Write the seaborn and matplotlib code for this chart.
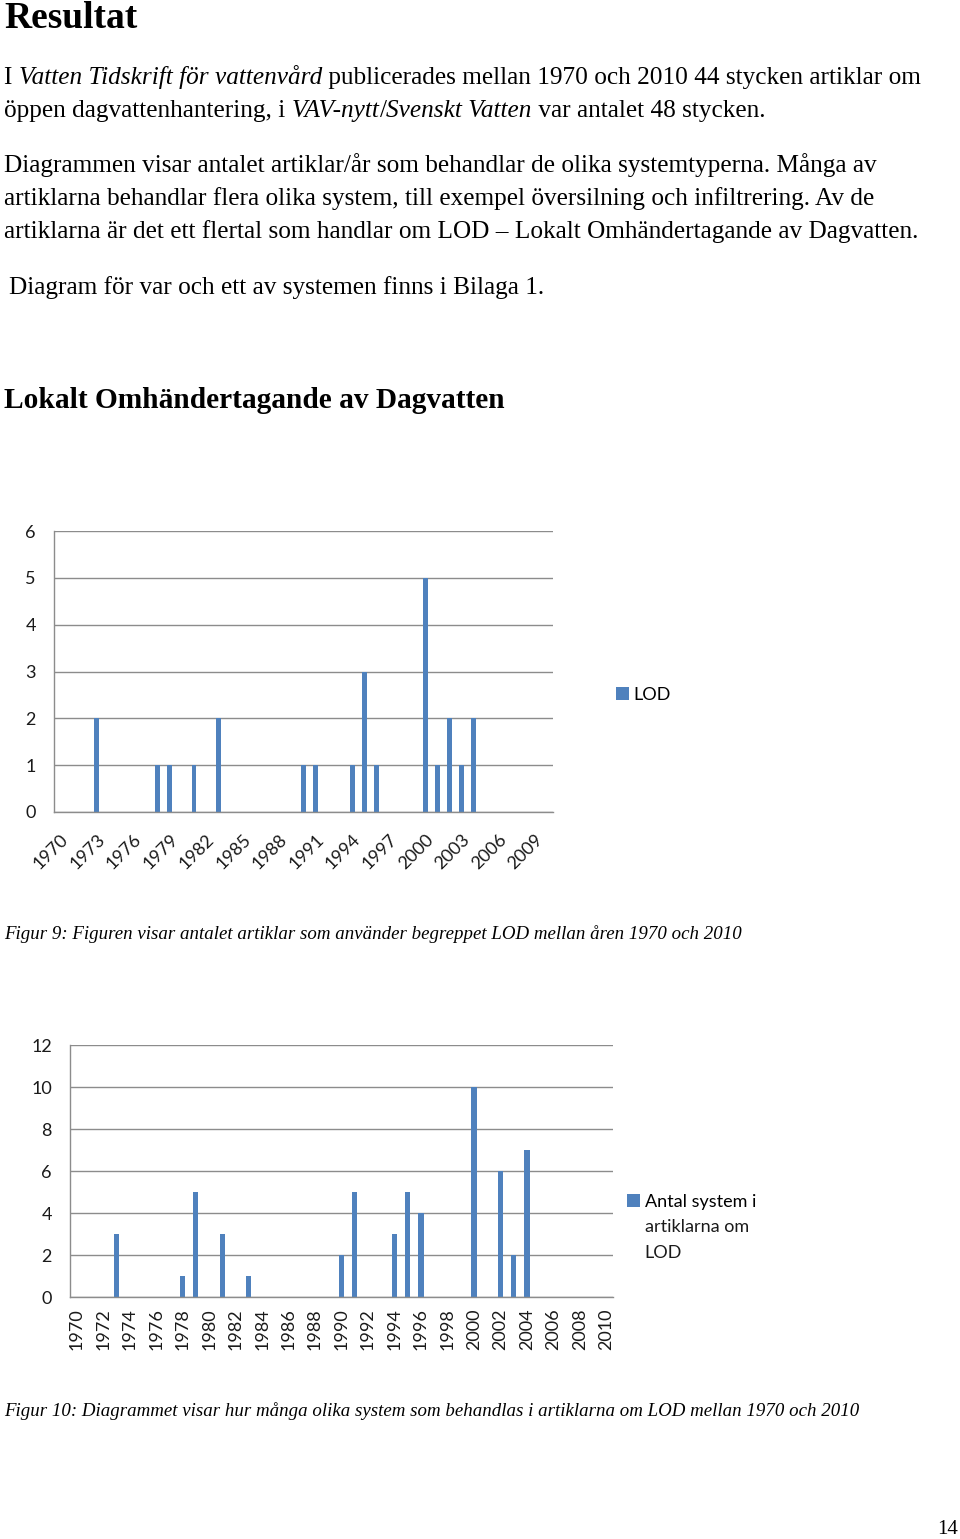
import matplotlib
matplotlib.use("Agg")
import matplotlib.pyplot as plt
import seaborn as sns

# ---------------- data ----------------
years = [str(y) for y in range(1970, 2011)]
lod_counts = [0, 0, 0, 2, 0, 0, 0, 0, 1, 1,
              0, 1, 0, 2, 0, 0, 0, 0, 0, 0,
              1, 1, 0, 0, 1, 3, 1, 0, 0, 0,
              5, 1, 2, 1, 2, 0, 0, 0, 0, 0,
              0]
system_counts = [0, 0, 0, 3, 0, 0, 0, 0, 1, 5,
                 0, 3, 0, 1, 0, 0, 0, 0, 0, 0,
                 2, 5, 0, 0, 3, 5, 4, 0, 0, 0,
                 10, 0, 6, 2, 7, 0, 0, 0, 0, 0,
                 0]
labels1_every = 3
labels2_every = 2
legend1 = "LOD"
legend2 = "Antal system i\nartiklarna om\nLOD"

# ---------------- style ----------------
sns.set_theme(style="white")
plt.rcParams["font.family"] = ["Lato", "DejaVu Sans"]
plt.rcParams["text.color"] = "black"
plt.rcParams["xtick.color"] = "#1a1a1a"
plt.rcParams["ytick.color"] = "#1a1a1a"
BLUE = "#4F81BD"
GRID = "#8C8C8C"
SERIF = ["Liberation Serif", "DejaVu Serif"]
CHART_FONT = ["Lato", "DejaVu Sans"]
TICK_SIZE = 13

W, H = 960, 1539
fig = plt.figure(figsize=(W / 100, H / 100), dpi=100)
fig.patch.set_facecolor("white")


def fx(px):
    return px / W


def fy(py):
    return 1 - py / H


renderer = fig.canvas.get_renderer()


def runs(x, y, parts, size):
    """Draw a line of mixed regular/italic text starting at pixel x, baseline y."""
    cur = x
    for txt, style in parts:
        t = fig.text(fx(cur), fy(y), txt, fontsize=size, family=SERIF,
                     style=style, va="baseline", ha="left", color="black")
        bb = t.get_window_extent(renderer=renderer)
        cur += bb.width


# ---------------- page text ----------------
fig.text(fx(4), fy(28), "Resultat", fontsize=27, family=SERIF,
         weight="bold", va="baseline", color="black")

BODY = 18.2
runs(4, 84, [("I ", "normal"), ("Vatten Tidskrift för vattenvård", "italic"),
             (" publicerades mellan 1970 och 2010 44 stycken artiklar om", "normal")], BODY)
runs(4, 117, [("öppen dagvattenhantering, i ", "normal"), ("VAV-nytt", "italic"),
              ("/", "normal"), ("Svenskt Vatten", "italic"),
              (" var antalet 48 stycken.", "normal")], BODY)
runs(4, 172, [("Diagrammen visar antalet artiklar/år som behandlar de olika systemtyperna. Många av", "normal")], BODY)
runs(4, 205, [("artiklarna behandlar flera olika system, till exempel översilning och infiltrering. Av de", "normal")], BODY)
runs(4, 238, [("artiklarna är det ett flertal som handlar om LOD – Lokalt Omhändertagande av Dagvatten.", "normal")], BODY)
runs(9, 294, [("Diagram för var och ett av systemen finns i Bilaga 1.", "normal")], BODY)

fig.text(fx(4), fy(408), "Lokalt Omhändertagande av Dagvatten", fontsize=21.2,
         family=SERIF, weight="bold", va="baseline", color="black")

fig.text(fx(4), fy(939), "Figur 9: Figuren visar antalet artiklar som använder begreppet LOD mellan åren 1970 och 2010",
         fontsize=13.6, family=SERIF, style="italic", va="baseline", color="black")
fig.text(fx(4), fy(1416), "Figur 10: Diagrammet visar hur många olika system som behandlas i artiklarna om LOD mellan 1970 och 2010",
         fontsize=13.6, family=SERIF, style="italic", va="baseline", color="black")
fig.text(fx(958), fy(1534), "14", fontsize=15, family=SERIF, ha="right",
         va="baseline", color="black")


# ---------------- charts ----------------
def style_axis(ax, ymax, label_every, rotation):
    ax.set_xlim(-0.5, len(years) - 0.5)
    ax.set_ylim(0, ymax)
    for s in ["top", "right"]:
        ax.spines[s].set_visible(False)
    for s in ["left", "bottom"]:
        ax.spines[s].set_color(GRID)
        ax.spines[s].set_linewidth(1.0)
    ax.yaxis.grid(True, color=GRID, linewidth=1.0)
    ax.xaxis.grid(False)
    ax.set_axisbelow(True)
    ax.set_xlabel("")
    ax.set_ylabel("")
    pos = list(range(0, len(years), label_every))
    ax.set_xticks(pos)
    if rotation == 45:
        ax.set_xticklabels([years[i] for i in pos], rotation=45, ha="right",
                           rotation_mode="anchor", family=CHART_FONT, fontsize=TICK_SIZE)
        xpad = 14
    else:
        ax.set_xticklabels([years[i] for i in pos], rotation=90, ha="center",
                           va="top", family=CHART_FONT, fontsize=TICK_SIZE)
        xpad = 8
    ax.set_xticks([i - 0.5 for i in range(len(years) + 1)], minor=True)
    ax.tick_params(axis="x", which="major", length=0, pad=xpad)
    ax.tick_params(axis="x", which="minor", length=5, color=GRID, width=1, direction="out")
    ax.tick_params(axis="y", which="major", length=5, color=GRID, width=1,
                   direction="out", pad=8, labelsize=TICK_SIZE)


def add_legend(ax, label, x_px, y_px):
    lines = label.split("\n")
    leg = ax.legend(loc="upper left", bbox_to_anchor=(fx(x_px), fy(y_px)),
                    bbox_transform=fig.transFigure, frameon=False,
                    handlelength=0.72, handleheight=0.72, handletextpad=0.25,
                    borderaxespad=0, borderpad=0,
                    prop={"family": CHART_FONT, "size": TICK_SIZE})
    leg.get_texts()[0].set_text(lines[0])
    fig.canvas.draw()
    tb = leg.get_texts()[0].get_window_extent(renderer=fig.canvas.get_renderer())
    for k, extra in enumerate(lines[1:], start=1):
        fig.text(tb.x0 / W, (tb.y0 - 25.3 * k) / H, extra, family=CHART_FONT,
                 fontsize=TICK_SIZE, ha="left", va="bottom", color="#1a1a1a")
    return leg


ax1 = fig.add_axes([fx(54), fy(812), fx(553 - 54), (812 - 531) / H])
sns.barplot(x=years, y=lod_counts, color=BLUE, width=0.4, linewidth=0,
            saturation=1, ax=ax1, label=legend1)
style_axis(ax1, 6, labels1_every, 45)
ax1.set_yticks(range(0, 7))
for lab in ax1.get_yticklabels():
    lab.set_family(CHART_FONT)
add_legend(ax1, legend1, 616, 687)

ax2 = fig.add_axes([fx(70), fy(1297), fx(613 - 70), (1297 - 1045) / H])
sns.barplot(x=years, y=system_counts, color=BLUE, width=0.4, linewidth=0,
            saturation=1, ax=ax2, label=legend2)
style_axis(ax2, 12, labels2_every, 90)
ax2.set_yticks(range(0, 13, 2))
for lab in ax2.get_yticklabels():
    lab.set_family(CHART_FONT)
add_legend(ax2, legend2, 627, 1194)

fig.savefig("out.png", dpi=100, facecolor="white")
